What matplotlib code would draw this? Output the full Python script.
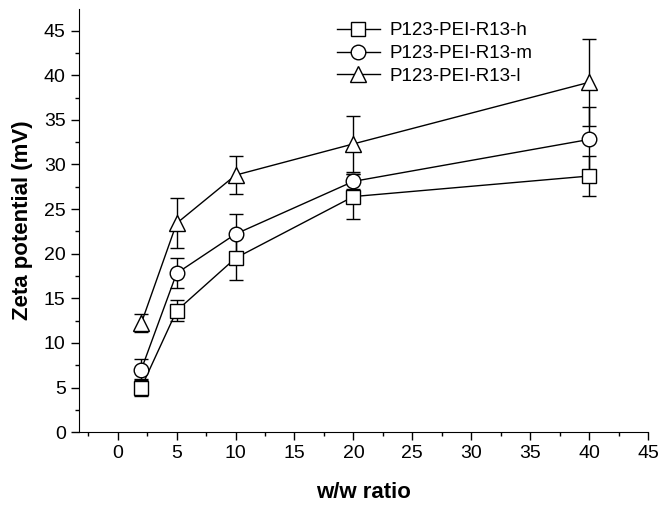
import numpy as np
import matplotlib.pyplot as plt
from matplotlib.ticker import MultipleLocator

plt.rcParams['font.family'] = ['Liberation Sans', 'DejaVu Sans']

ratio = [2, 5, 10, 20, 40]
zeta_h = [5.0, 13.6, 19.5, 26.4, 28.7]
err_h = [1.0, 1.2, 2.4, 2.5, 2.2]
zeta_m = [7.0, 17.8, 22.2, 28.1, 32.8]
err_m = [1.2, 1.7, 2.2, 0.8, 3.6]
zeta_l = [12.2, 23.4, 28.8, 32.3, 39.2]
err_l = [1.0, 2.8, 2.1, 3.1, 4.9]
labels = ['P123-PEI-R13-h', 'P123-PEI-R13-m', 'P123-PEI-R13-l']

fig = plt.figure(figsize=(6.68, 5.09), dpi=100)
ax = fig.add_axes([0.118, 0.151, 0.852, 0.831])

series = [(zeta_h, err_h, 's', 9.5), (zeta_m, err_m, 'o', 10.5), (zeta_l, err_l, '^', 12)]
handles = []
for (y, e, m, ms), lab in zip(series, labels):
    c = ax.errorbar(ratio, y, yerr=e, color='black', marker=m, markersize=ms,
                    markerfacecolor='white', markeredgewidth=1.0, linewidth=1.0,
                    elinewidth=1.0, capsize=5, capthick=1.0, label=lab)
    handles.append(c[0])

ax.set_xlim(-3.3, 45)
ax.set_ylim(0, 47.4)
ax.xaxis.set_major_locator(MultipleLocator(5))
ax.xaxis.set_minor_locator(MultipleLocator(2.5))
ax.yaxis.set_major_locator(MultipleLocator(5))
ax.yaxis.set_minor_locator(MultipleLocator(2.5))
ax.spines['top'].set_visible(False)
ax.spines['right'].set_visible(False)
ax.tick_params(which='major', direction='out', length=6, width=1, labelsize=14)
ax.tick_params(which='minor', direction='out', length=3, width=1)

ax.set_xlabel('w/w ratio', fontsize=16, fontweight='bold', labelpad=14)
ax.set_ylabel('Zeta potential (mV)', fontsize=16, fontweight='bold', labelpad=8)

ax.legend(handles, labels, loc='upper left', bbox_to_anchor=(0.43, 1.0), frameon=False,
          fontsize=13.5, handlelength=2.3, handletextpad=0.5, labelspacing=0.3, borderpad=0.2)

fig.savefig('out.png', dpi=100)
